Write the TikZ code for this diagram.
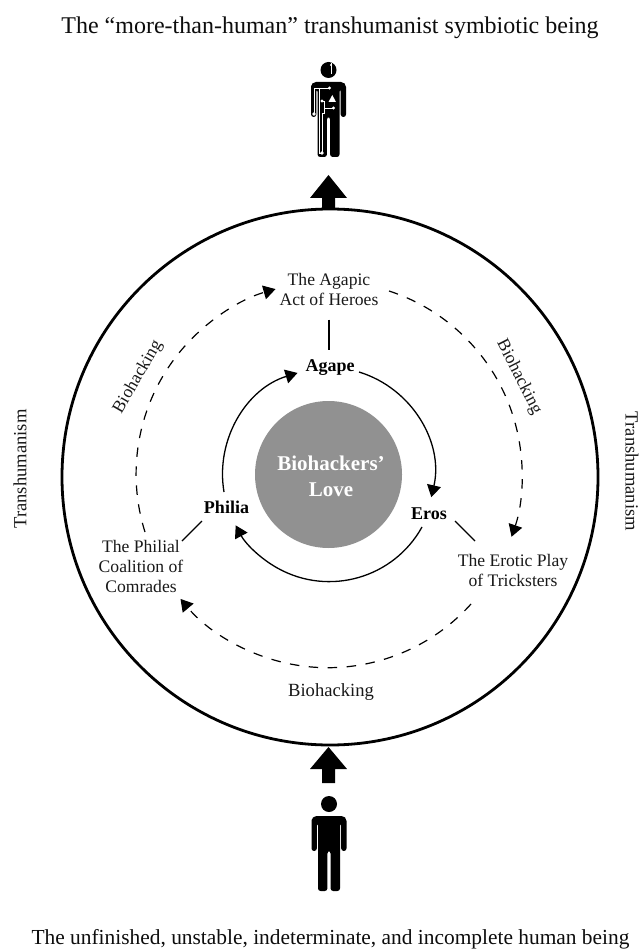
\documentclass[tikz,border=0pt]{standalone}
\usepackage{fontspec}
\setmainfont{Liberation Serif}
\usetikzlibrary{arrows.meta}
\definecolor{hubgray}{RGB}{145,145,145}
\tikzset{
  x=1pt,y=-1pt,
  txt/.style={inner sep=0pt,font=\fontsize{17.6}{20}\selectfont,align=center,text=black!90},
  bio/.style={inner sep=0pt,font=\fontsize{18.6}{20}\selectfont,align=center,text=black!90},
  bold/.style={inner sep=0pt,font=\fontsize{18}{22}\selectfont\bfseries,align=center},
  solidarc/.style={line width=1.3pt,-{Triangle[length=12pt,width=14pt]}},
  dasharc/.style={line width=1.2pt,dash pattern=on 9.5pt off 9.5pt,-{Triangle[length=12pt,width=14pt]}},
  thin link/.style={line width=1.3pt},
  bigarrow/.style={fill=black,draw=none},
  circuit/.style={draw=white,line width=0.9pt},
  cdot/.style={fill=white,draw=none}
}
\newcommand{\personshape}{%
  \fill (0,-12) circle (8);
  \fill[rounded corners=2.6pt] (-17.5,35) -- (-17.5,6) [rounded corners=5pt] -- (-17.5,0) -- (17.5,0) [rounded corners=2.6pt] -- (17.5,35) -- (12.2,35) -- (12.2,7) -- (11,7) -- (11,75) -- (1.6,75) -- (1.6,35) -- (-1.6,35) -- (-1.6,75) -- (-11,75) -- (-11,7) -- (-12.2,7) -- (-12.2,35) -- cycle;
}
\begin{document}
\begin{tikzpicture}
\useasboundingbox (0,0) rectangle (640,949);
\fill[white] (0,0) rectangle (640,949);
% outer and hub circles
\coordinate (c) at (330,477);
\coordinate (h) at (328.5,474.5);
\draw[line width=2.8pt] (c) circle (268);
\node[circle,fill=hubgray,minimum size=147pt,inner sep=0pt] (hub) at (h) {};
\node[inner sep=0pt,font=\fontsize{21}{26}\selectfont\bfseries,align=center,text=white] (hubtxt) at (331,476) {Biohackers’\\Love};
% titles
\node[inner sep=0pt,font=\fontsize{24}{28}\selectfont,text=black!95] (top) at (330,28) {The “more-than-human” transhumanist symbiotic being};
\node[inner sep=0pt,font=\fontsize{21.4}{25}\selectfont,text=black!95] (bot) at (330.5,939) {The unfinished, unstable, indeterminate, and incomplete human being};
\node[bio,rotate=90] (tl) at (20,469) {Transhumanism};
\node[bio,rotate=-90] (tr) at (632,471.5) {Transhumanism};
% inner labels
\node[bold] (agape) at (330,368) {Agape};
\node[bold] (eros) at (429,514) {Eros};
\node[bold] (philia) at (226.5,507) {Philia};
\node[txt] (hero) at (329,289) {The Agapic\\Act of Heroes};
\node[txt] (comrade) at (141,566) {The Philial\\Coalition of\\Comrades};
\node[txt] (trick) at (513,570) {The Erotic Play\\of Tricksters};
\node[bio] (b1) at (331,692) {Biohacking};
\node[txt,rotate=60] (b2) at (138,377) {Biohacking};
\node[txt,rotate=-63] (b3) at (519,377) {Biohacking};
% solid arcs (radius 106 about hub)
\coordinate (a1s) at (224,492);
\coordinate (a2s) at (359,372);
\coordinate (a3s) at (422,527);
\draw[solidarc] (a1s) arc[start angle=-189.6,end angle=-107,radius=106] ;
\draw[solidarc] (a2s) arc[start angle=-73,end angle=13,radius=106];
\draw[solidarc] (a3s) arc[start angle=29,end angle=152,radius=106];
% dashed arcs (radius 192.5)
\coordinate (d1s) at (145,532);
\coordinate (d2s) at (389,291);
\coordinate (d3s) at (471,604);
\draw[dasharc] (d1s) arc[start angle=-197.5,end angle=-106,radius=192.5];
\draw[dasharc] (d2s) arc[start angle=-72,end angle=19,radius=192.5];
\draw[dasharc] (d3s) arc[start angle=42,end angle=140,radius=192.5];
% links
\coordinate (l1) at (329,319.5);
\coordinate (l2) at (329,350);
\coordinate (l3) at (202,521);
\coordinate (l4) at (182,541);
\coordinate (l5) at (455,521);
\coordinate (l6) at (475,541);
\draw[thin link] (l1) -- (l2);
\draw[thin link] (l3) -- (l4);
\draw[thin link] (l5) -- (l6);
% block arrows
\fill[bigarrow] (328.5,175) -- (347,198) -- (335,198) -- (335,210) -- (322,210) -- (322,198) -- (310,198) -- cycle;
\fill[bigarrow] (328.5,747) -- (347,769) -- (335,769) -- (335,783) -- (322,783) -- (322,769) -- (310,769) -- cycle;
% bottom person
\begin{scope}[shift={(329,816)}]
\personshape
\end{scope}
% top person
\begin{scope}[shift={(328.5,82)}]
\personshape
\draw[circuit] (2.5,-19) -- (2.5,-8);
\fill[cdot] (2.5,-17) circle (1.2);
\draw[circuit] (-14.5,32) -- (-14.5,6) -- (1,6);
\draw[circuit] (-9.5,6) -- (-9.5,71) -- (-6.5,71);
\fill[cdot] (1,6) circle (1.6);
\fill[cdot] (-14.5,32) circle (1.8);
\fill[cdot] (-6.5,71) circle (1.8);
\draw[circuit] (-6.5,19) -- (-4.5,19) -- (-4.5,26) -- (5,26);
\draw[circuit] (-4.5,26) -- (-4.5,31) -- (-6,31) -- (-6,70);
\fill[cdot] (-6.5,19) circle (1.6);
\fill[cdot] (5,26) circle (1.6);
\fill[cdot] (0,20) -- (7.5,20) -- (3.8,13) -- cycle;
\end{scope}
\end{tikzpicture}
\end{document}
